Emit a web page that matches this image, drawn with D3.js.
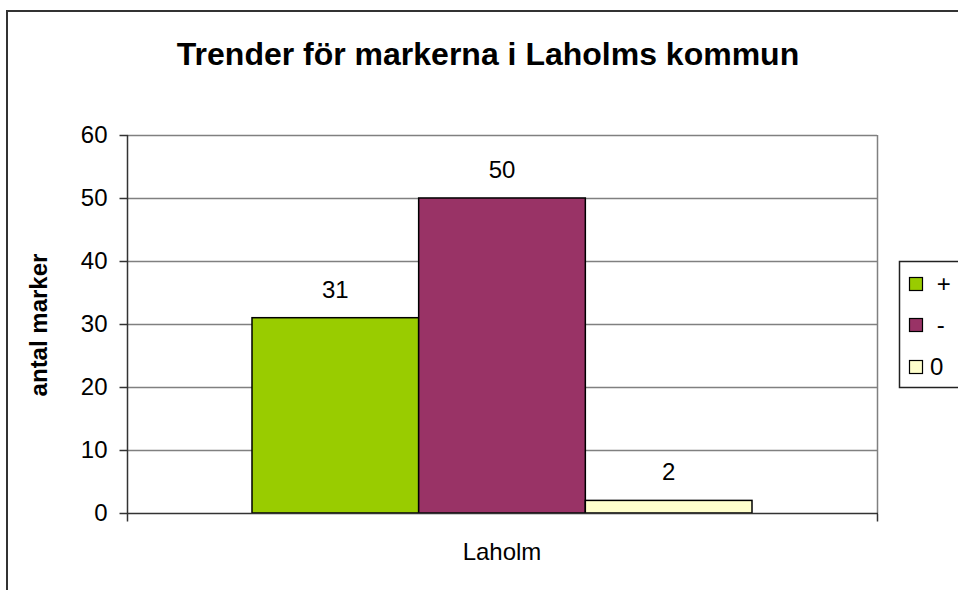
<!DOCTYPE html>
<html>
<head>
<meta charset="utf-8">
<script src="https://cdn.jsdelivr.net/npm/d3@7"></script>
<style>
  html, body { margin: 0; padding: 0; background: #fff; }
  svg { display: block; font-family: "Liberation Sans", Arial, sans-serif; }
</style>
</head>
<body>
<svg id="chart" width="958" height="590"></svg>
<script>
// Chart data
const categories = ["Laholm"];
const seriesNames = ["+", "-", "0"];
const legendLabels = [" +", " -", "0"];
const seriesValues = [31, 50, 2];
const seriesColors = ["#99cc00", "#993366", "#ffffcc"];
const yTicks = [0, 10, 20, 30, 40, 50, 60];

const svg = d3.select("#chart");
const W = 958, H = 590;
const FONT = "Liberation Sans, Arial, sans-serif";

// Outer chart frame
svg.append("rect")
  .attr("x", 7).attr("y", 11)
  .attr("width", W + 10).attr("height", H + 10)
  .attr("fill", "#fff").attr("stroke", "#333").attr("stroke-width", 2);

// Title
svg.append("text")
  .attr("x", 488).attr("y", 65)
  .attr("text-anchor", "middle")
  .attr("font-size", 32).attr("font-weight", "bold")
  .attr("fill", "#000")
  .text("Trender för markerna i Laholms kommun");

const plot = { left: 127, right: 877, top: 135, bottom: 513 };

const y = d3.scaleLinear().domain([0, 60]).range([plot.bottom, plot.top]);
const x0 = d3.scaleBand().domain(categories).range([plot.left, plot.right]).paddingInner(0).paddingOuter(0);
// gap width 150%: bars occupy 3 of 4.5 bar widths in the category
const catW = x0.bandwidth();
const barW = catW / (seriesNames.length + 1.5);
const x1 = d3.scaleBand().domain(seriesNames)
  .range([0.75 * barW, 0.75 * barW + barW * seriesNames.length]);

const g = svg.append("g");

// Gridlines
g.selectAll("line.grid").data(yTicks.filter(d => d > 0)).join("line")
  .attr("class", "grid")
  .attr("x1", plot.left).attr("x2", plot.right)
  .attr("y1", d => Math.round(y(d)) + 0.5).attr("y2", d => Math.round(y(d)) + 0.5)
  .attr("stroke", "#808080").attr("stroke-width", 1.5);

// Right border of plot area
g.append("line")
  .attr("x1", plot.right + 0.5).attr("x2", plot.right + 0.5)
  .attr("y1", plot.top).attr("y2", plot.bottom)
  .attr("stroke", "#808080").attr("stroke-width", 1.5);

// Bars
const data = seriesNames.map((s, i) => ({ cat: categories[0], name: s, value: seriesValues[i], color: seriesColors[i] }));
g.selectAll("rect.bar").data(data).join("rect")
  .attr("class", "bar")
  .attr("x", d => x0(d.cat) + x1(d.name))
  .attr("y", d => y(d.value))
  .attr("width", x1.bandwidth())
  .attr("height", d => y(0) - y(d.value))
  .attr("fill", d => d.color)
  .attr("stroke", "#000").attr("stroke-width", 1.5);

// Value labels
g.selectAll("text.val").data(data).join("text")
  .attr("class", "val")
  .attr("x", d => x0(d.cat) + x1(d.name) + x1.bandwidth() / 2)
  .attr("y", d => y(d.value) - 20)
  .attr("text-anchor", "middle")
  .attr("font-size", 24).attr("fill", "#000")
  .text(d => d.value);

// Y axis
const yAxis = d3.axisLeft(y).tickValues(yTicks).tickSize(8).tickPadding(12).tickFormat(d3.format("d"));
const ya = svg.append("g").attr("transform", `translate(${plot.left + 0.5},0)`).call(yAxis);
ya.select(".domain").attr("stroke", "#333").attr("stroke-width", 1.5).attr("d", `M0,${plot.top}V${plot.bottom + 1}`);
ya.selectAll(".tick line").attr("stroke", "#333").attr("stroke-width", 1.5);
ya.selectAll(".tick text").attr("font-size", 24).attr("fill", "#000")
  .attr("font-family", FONT).attr("dy", "0.32em");

// X axis
const xa = svg.append("g").attr("transform", `translate(0,${plot.bottom + 0.5})`);
xa.append("line").attr("x1", plot.left).attr("x2", plot.right + 1).attr("y1", 0).attr("y2", 0)
  .attr("stroke", "#333").attr("stroke-width", 1.5);
xa.selectAll("line.xt").data([plot.left, plot.right]).join("line")
  .attr("class", "xt")
  .attr("x1", d => d + 0.5).attr("x2", d => d + 0.5).attr("y1", 0).attr("y2", 8)
  .attr("stroke", "#333").attr("stroke-width", 1.5);
xa.selectAll("text.cat").data(categories).join("text")
  .attr("class", "cat")
  .attr("x", d => x0(d) + catW / 2).attr("y", 46)
  .attr("text-anchor", "middle").attr("font-size", 24).attr("fill", "#000")
  .text(d => d);

// Y axis title
svg.append("text")
  .attr("transform", `translate(47,325) rotate(-90)`)
  .attr("text-anchor", "middle")
  .attr("font-size", 24).attr("font-weight", "bold").attr("fill", "#000")
  .text("antal marker");

// Legend
const lg = svg.append("g");
lg.append("rect")
  .attr("x", 899.5).attr("y", 261.5).attr("width", 80).attr("height", 126)
  .attr("fill", "#fff").attr("stroke", "#222").attr("stroke-width", 1.5);
const rowY = [284, 325, 367];
lg.selectAll("rect.key").data(data).join("rect")
  .attr("class", "key")
  .attr("x", 909.5).attr("y", (d, i) => rowY[i] - 6.5)
  .attr("width", 13).attr("height", 13)
  .attr("fill", d => d.color).attr("stroke", "#000").attr("stroke-width", 1.2);
lg.selectAll("text.lab").data(legendLabels).join("text")
  .attr("class", "lab")
  .attr("x", 930).attr("y", (d, i) => rowY[i])
  .attr("dy", "0.35em")
  .attr("font-size", 24).attr("fill", "#000")
  .style("white-space", "pre")
  .text(d => d);
</script>
</body>
</html>
